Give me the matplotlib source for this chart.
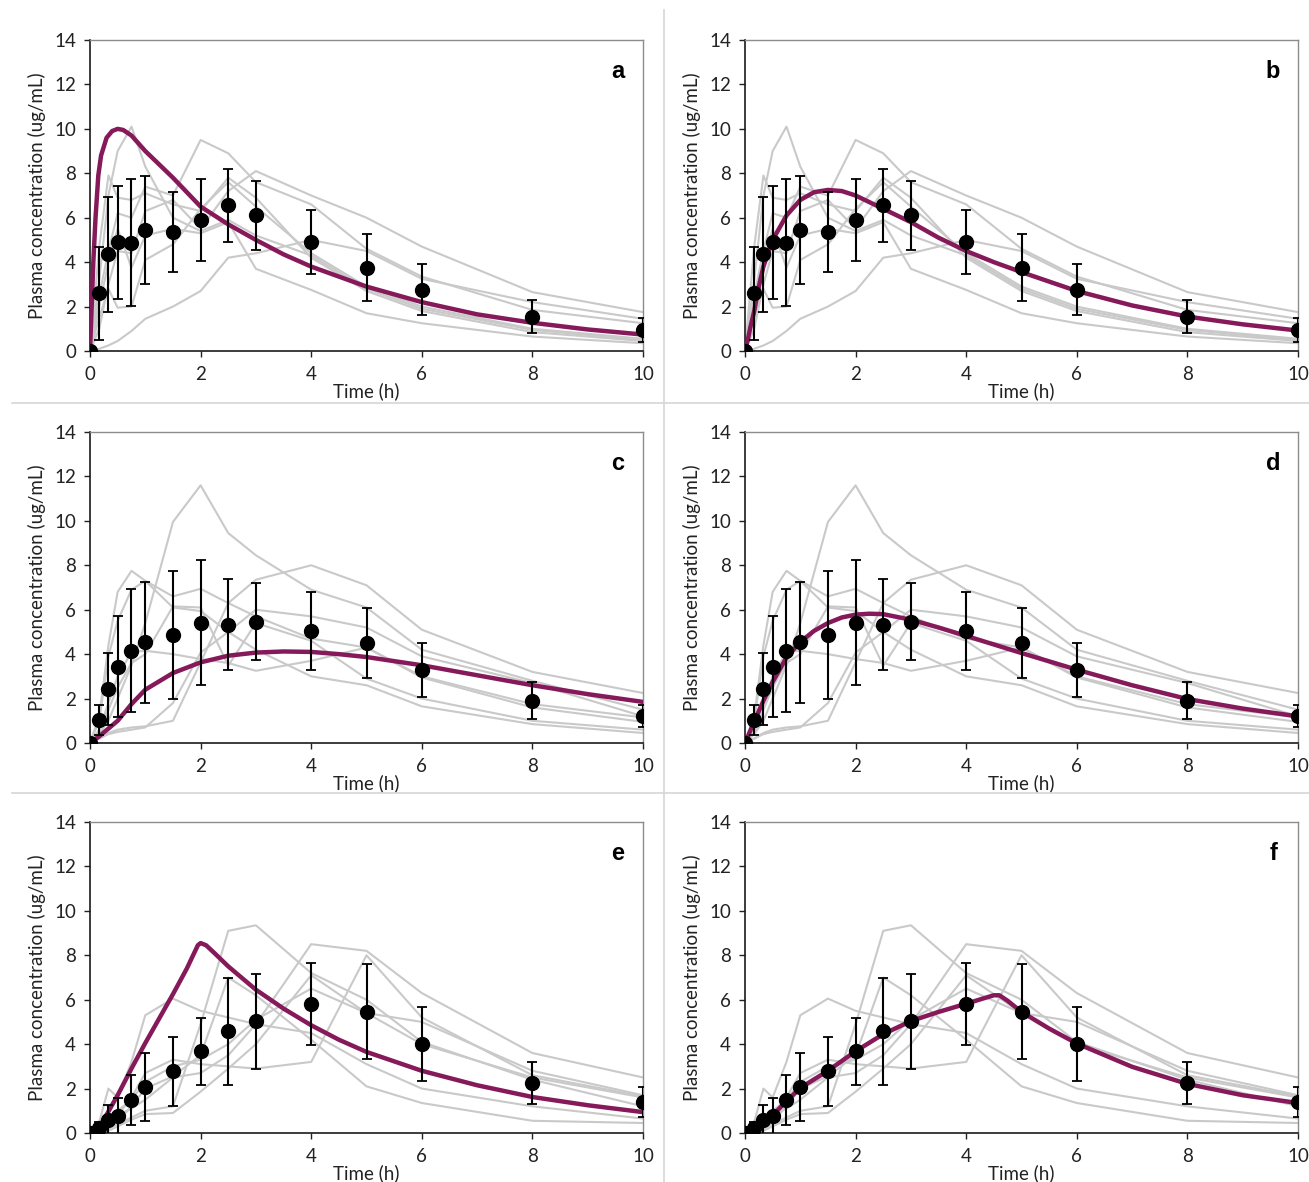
import numpy as np
import matplotlib
matplotlib.use("Agg")
import matplotlib.pyplot as plt
from matplotlib.lines import Line2D

plt.rcParams['font.family'] = ['Lato', 'DejaVu Sans']

# sampling times (h)
times = [0, 0.167, 0.333, 0.5, 0.75, 1, 1.5, 2, 2.5, 3, 4, 5, 6, 8, 10]

# ---- data set 1 (panels a, b) ----
mean1 = [0, 2.6, 4.35, 4.9, 4.88, 5.45, 5.35, 5.9, 6.55, 6.1, 4.9, 3.75, 2.75, 1.55, 0.95]
sd1 = [0, 2.1, 2.6, 2.55, 2.87, 2.45, 1.8, 1.85, 1.65, 1.55, 1.45, 1.5, 1.15, 0.75, 0.55]
subj1 = [
    [0, 3.2, 7.0, 9.0, 10.1, 8.3, 6.0, 5.4, 5.9, 5.2, 4.3, 2.8, 1.9, 0.95, 0.5],
    [0, 4.7, 7.9, 6.9, 6.8, 7.1, 6.6, 6.3, 7.8, 6.9, 4.2, 2.7, 1.8, 0.85, 0.45],
    [0, 2.5, 4.5, 6.2, 6.0, 7.4, 7.0, 9.5, 8.9, 7.6, 6.6, 4.6, 3.35, 1.85, 1.25],
    [0, 1.0, 3.0, 4.5, 4.4, 6.3, 6.8, 5.5, 7.2, 8.1, 7.0, 6.0, 4.7, 2.65, 1.75],
    [0, 0.1, 0.25, 0.45, 0.9, 1.45, 2.0, 2.7, 4.2, 4.4, 5.0, 4.5, 3.25, 2.2, 1.45],
    [0, 1.5, 2.8, 1.95, 2.0, 4.1, 4.8, 6.4, 7.6, 6.5, 4.4, 2.9, 2.0, 1.0, 0.55],
    [0, 2.0, 4.0, 5.5, 3.75, 5.2, 5.5, 5.3, 5.8, 3.7, 2.75, 1.7, 1.25, 0.65, 0.35],
]

# ---- data set 2 (panels c, d) ----
mean2 = [0, 1.02, 2.44, 3.44, 4.16, 4.54, 4.87, 5.42, 5.33, 5.46, 5.03, 4.5, 3.29, 1.9, 1.21]
sd2 = [0, 0.67, 1.62, 2.29, 2.77, 2.72, 2.88, 2.81, 2.05, 1.74, 1.75, 1.58, 1.2, 0.84, 0.5]
subj2 = [
    [0, 0.4, 1.0, 2.0, 3.5, 5.4, 9.95, 11.6, 9.45, 8.45, 6.9, 6.1, 4.2, 2.8, 1.5],
    [0, 1.2, 4.4, 6.8, 7.75, 7.3, 6.1, 5.94, 5.0, 4.2, 3.0, 2.6, 1.65, 0.85, 0.45],
    [0, 1.0, 3.9, 5.5, 6.9, 7.3, 6.6, 6.94, 6.3, 5.7, 4.7, 4.3, 2.95, 1.6, 0.95],
    [0, 0.2, 0.45, 0.6, 0.7, 0.75, 1.0, 3.63, 6.3, 7.35, 8.0, 7.1, 5.1, 3.2, 2.25],
    [0, 0.6, 1.8, 3.0, 4.1, 4.15, 4.0, 3.78, 3.6, 3.25, 3.7, 4.3, 3.0, 1.75, 1.15],
    [0, 0.5, 1.5, 2.5, 3.6, 4.0, 6.15, 6.1, 3.48, 5.4, 4.6, 2.9, 2.0, 1.0, 0.6],
    [0, 0.2, 0.4, 0.5, 0.6, 0.7, 1.8, 4.07, 5.0, 6.0, 5.7, 5.2, 3.9, 2.7, 1.2],
]

# ---- data set 3 (panels e, f) ----
mean3 = [0, 0.22, 0.57, 0.75, 1.47, 2.07, 2.77, 3.68, 4.58, 5.03, 5.81, 5.46, 4.01, 2.25, 1.39]
sd3 = [0, 0.28, 0.67, 0.82, 1.12, 1.54, 1.54, 1.5, 2.4, 2.13, 1.84, 2.14, 1.68, 0.94, 0.68]
subj3 = [
    [0, 0.0, 0.3, 0.8, 1.6, 2.7, 3.3, 3.1, 3.0, 2.9, 3.2, 8.0, 5.2, 2.6, 1.65],
    [0, 0.0, 0.2, 0.4, 0.7, 1.0, 1.2, 4.9, 9.1, 9.35, 7.2, 6.0, 4.1, 2.4, 1.2],
    [0, 0.2, 0.5, 0.8, 1.1, 1.5, 2.5, 2.7, 3.5, 4.9, 8.5, 8.2, 6.3, 3.6, 2.5],
    [0, 0.5, 2.0, 1.6, 3.2, 5.3, 6.05, 5.5, 5.2, 4.9, 4.5, 3.1, 2.0, 1.2, 0.65],
    [0, 0.1, 0.2, 0.5, 1.2, 2.0, 2.55, 3.5, 7.0, 6.2, 4.2, 2.1, 1.35, 0.55, 0.45],
    [0, 0.2, 0.6, 1.0, 1.5, 2.3, 3.0, 3.3, 4.0, 5.1, 6.5, 5.4, 5.0, 2.8, 1.7],
    [0, 0.0, 0.1, 0.3, 0.6, 0.85, 0.9, 1.86, 2.9, 4.0, 7.1, 5.4, 4.0, 2.5, 1.6],
]

# ---- model predictions ----
tA = [0, 0.03, 0.06, 0.1, 0.15, 0.2, 0.3, 0.4, 0.5, 0.6, 0.75, 1.0, 1.25, 1.5, 2.0, 2.5, 3.0, 3.5, 4, 5, 6, 7, 8, 9, 10]
cA = [0, 2.0, 4.0, 6.0, 7.9, 8.8, 9.6, 9.9, 10.0, 9.95, 9.7, 9.0, 8.4, 7.8, 6.5, 5.7, 5.0, 4.35, 3.8, 2.9, 2.2, 1.65, 1.27, 0.97, 0.74]
tB = [0, 0.05, 0.1, 0.167, 0.25, 0.333, 0.5, 0.75, 1.0, 1.25, 1.5, 1.75, 2.0, 2.5, 3, 3.5, 4, 4.5, 5, 6, 7, 8, 9, 10]
cB = [0, 0.5, 1.1, 1.8, 2.9, 3.8, 5.0, 6.1, 6.8, 7.15, 7.25, 7.2, 7.0, 6.4, 5.8, 5.1, 4.5, 4.0, 3.55, 2.7, 2.05, 1.55, 1.2, 0.92]
tC = [0, 0.167, 0.333, 0.5, 0.75, 1, 1.5, 2, 2.5, 3, 3.5, 4, 4.5, 5, 6, 7, 8, 9, 10]
cC = [0, 0.3, 0.65, 1.0, 1.75, 2.4, 3.15, 3.63, 3.93, 4.07, 4.12, 4.1, 4.0, 3.87, 3.5, 3.05, 2.6, 2.2, 1.85]
tD = [0, 0.167, 0.333, 0.5, 0.75, 1.0, 1.25, 1.5, 1.75, 2, 2.25, 2.5, 3, 3.5, 4, 5, 6, 7, 8, 9, 10]
cD = [0, 0.97, 1.9, 2.75, 3.85, 4.55, 5.05, 5.4, 5.65, 5.78, 5.82, 5.8, 5.55, 5.2, 4.82, 4.05, 3.3, 2.6, 1.98, 1.55, 1.2]
tE = [0.15, 0.25, 0.5, 0.75, 1, 1.25, 1.5, 1.75, 1.95, 2.0, 2.1, 2.25, 2.5, 3, 3.5, 4, 4.5, 5, 6, 7, 8, 9, 10]
cE = [0.2, 0.6, 1.7, 2.9, 4.05, 5.15, 6.25, 7.4, 8.45, 8.55, 8.45, 8.1, 7.5, 6.45, 5.6, 4.85, 4.2, 3.65, 2.8, 2.15, 1.62, 1.25, 0.94]
tF = [0, 0.167, 0.333, 0.5, 0.75, 1, 1.5, 2, 2.5, 3, 3.5, 4, 4.3, 4.5, 4.6, 4.75, 5, 5.5, 6, 7, 8, 9, 10]
cF = [0, 0.2, 0.53, 0.8, 1.43, 2.03, 2.8, 3.68, 4.45, 5.04, 5.45, 5.82, 6.05, 6.2, 6.2, 5.95, 5.45, 4.7, 4.03, 2.98, 2.21, 1.7, 1.35]

panels = [
    ("a", subj1, mean1, sd1, tA, cA),
    ("b", subj1, mean1, sd1, tB, cB),
    ("c", subj2, mean2, sd2, tC, cC),
    ("d", subj2, mean2, sd2, tD, cD),
    ("e", subj3, mean3, sd3, tE, cE),
    ("f", subj3, mean3, sd3, tF, cF),
]

W, H = 1309, 1182
fig = plt.figure(figsize=(W / 100, H / 100), dpi=100)

lefts = [90, 745]
tops = [40, 432, 822]
aw, ah = 553, 311

purple = '#86195A'
fs = 13.5
for i, (lab, subj, m, s, tm, cm) in enumerate(panels):
    row, col = i // 2, i % 2
    ax = fig.add_axes([lefts[col] / W, 1 - (tops[row] + ah) / H, aw / W, ah / H])
    for y in subj:
        ax.plot(times, y, color='#C9C9C9', lw=1.5, zorder=1)
    ax.plot(tm, cm, color=purple, lw=3.2, zorder=3, solid_capstyle='round')
    ax.errorbar(times, m, yerr=s, fmt='o', color='black', ms=10, elinewidth=1.5,
                capsize=3.5, capthick=1.3, zorder=4)
    ax.set_xlim(0, 10)
    ax.set_ylim(0, 14)
    ax.set_xticks(range(0, 11, 2))
    ax.set_yticks(range(0, 15, 2))
    ax.tick_params(direction='out', length=4, width=1, labelsize=fs, colors='#222222')
    ax.tick_params(axis='x', pad=7)
    ax.tick_params(axis='y', pad=6)
    for sp in ['left', 'bottom']:
        ax.spines[sp].set_color('#1a1a1a')
        ax.spines[sp].set_linewidth(1.2)
    for sp in ['top', 'right']:
        ax.spines[sp].set_color('#8c8c8c')
        ax.spines[sp].set_linewidth(1.0)
    ax.set_xlabel('Time (h)', fontsize=fs, labelpad=-1, color='#222222')
    ax.set_ylabel('Plasma concentration (ug/mL)', fontsize=fs, labelpad=6, color='#222222')
    ax.text(0.955, 0.9, lab, transform=ax.transAxes, ha='center', va='center',
            fontsize=17, fontweight='bold', family=['Liberation Sans', 'DejaVu Sans'])

# panel separators
sep = '#d6d6d6'
fig.add_artist(Line2D([664 / W, 664 / W], [0, 1 - 10 / H], color=sep, lw=1.2))
for yy in [403, 793]:
    fig.add_artist(Line2D([12 / W, 1], [1 - yy / H, 1 - yy / H], color=sep, lw=1.2))

fig.savefig('out.png', dpi=100)
